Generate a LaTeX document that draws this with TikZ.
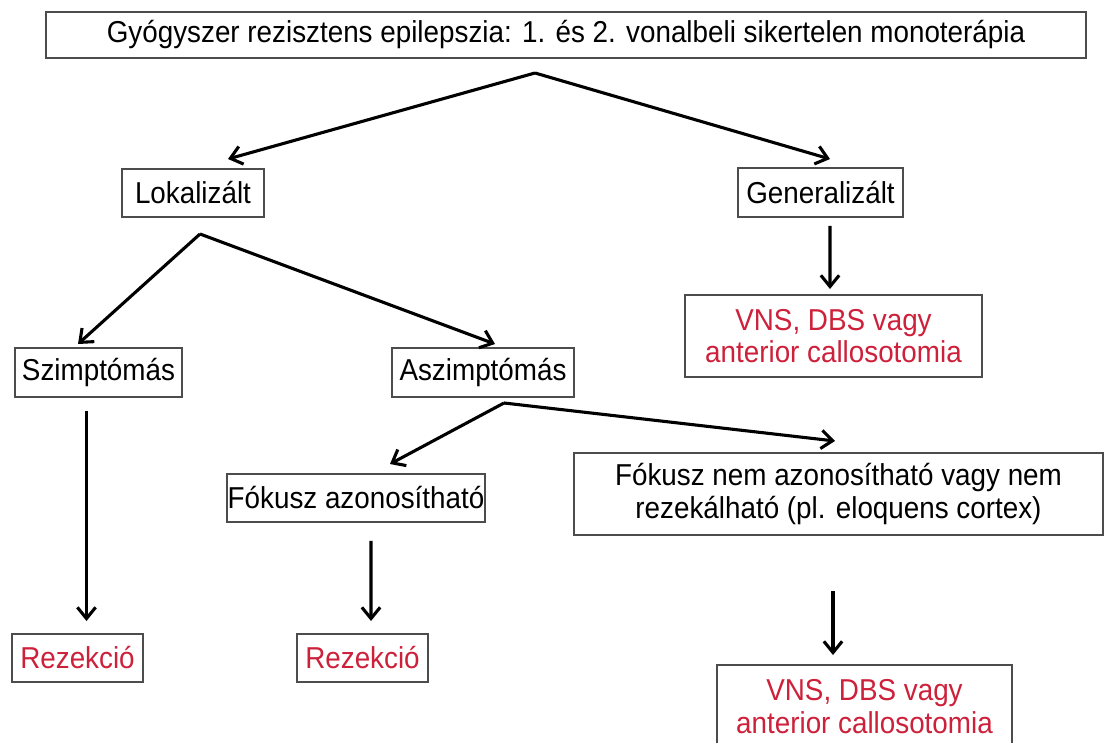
\documentclass[tikz,border=0pt]{standalone}
\usepackage{fontspec}
\setmainfont{Liberation Sans}[FakeStretch=0.92]
\usepackage{tikz}
\usetikzlibrary{positioning, arrows.meta, calc}

\definecolor{therapyred}{RGB}{205,32,58}

\begin{document}
\begin{tikzpicture}[
        x=0.025cm, y=-0.025cm,
        box/.style={
            rectangle,
            draw=black!70,
            line width=1.4pt,
            inner sep=0pt,
            align=center,
            font=\fontsize{21.5}{23.3}\selectfont
        },
        therapy/.style={
            box,
            text=therapyred
        },
        arrow/.style={
            -{Straight Barb[length=8pt,width=13pt]},
            line width=2.2pt
        }
    ]

    \useasboundingbox (0,0) rectangle (1112,743);

    % Boxes (top to bottom)
    \node[box, minimum width=26cm, minimum height=1.15cm] (top) at (566,35)
        {Gyógyszer rezisztens epilepszia: 1. és 2. vonalbeli sikertelen monoterápia};

    \node[box, minimum width=3.55cm, minimum height=1.2cm] (lok) at (193,193) {Lokalizált};
    \node[box, minimum width=4.125cm, minimum height=1.225cm] (gen) at (820.5,192.5) {Generalizált};

    \node[therapy, minimum width=7.425cm, minimum height=2.05cm] (vns1) at (833.5,336) {
        VNS, DBS vagy\\
        anterior callosotomia
    };

    \node[box, minimum width=4.175cm, minimum height=1.225cm] (szim) at (98.5,372.5) {Szimptómás};
    \node[box, minimum width=4.55cm, minimum height=1.225cm] (aszim) at (483,372.5) {Aszimptómás};

    \node[box, minimum width=6.45cm, minimum height=1.2cm] (fokaz) at (356,498) {Fókusz azonosítható};
    \node[box, minimum width=13.225cm, minimum height=2.05cm] (foknem) at (838.5,494) {
        Fókusz nem azonosítható vagy nem\\
        rezekálható (pl. eloquens cortex)
    };

    \node[therapy, minimum width=3.275cm, minimum height=1.2cm] (rez1) at (77.5,658) {Rezekció};
    \node[therapy, minimum width=3.275cm, minimum height=1.2cm] (rez2) at (362.5,658) {Rezekció};

    \node[therapy, minimum width=7.375cm, minimum height=2.075cm] (vns2) at (864.5,706.5) {
        VNS, DBS vagy\\
        anterior callosotomia
    };

    % Split points
    \coordinate (topsplit) at ($(top.south)+(-31,14)$);
    \coordinate (loksplit) at ($(lok.south)+(7,16)$);
    \coordinate (aszsplit) at ($(aszim.south)+(21,5)$);

    % Arrows
    \draw[arrow] (topsplit) -- ($(lok.north)+(35,-9)$);
    \draw[arrow] (topsplit) -- ($(gen.north)+(9.5,-8)$);
    \draw[arrow] ($(gen.south)+(9.5,8)$) -- ($(vns1.north)+(-3.5,-5)$);

    \draw[arrow] (loksplit) -- ($(szim.north)+(-20.5,-3)$);
    \draw[arrow] (loksplit) -- ($(aszim.north)+(12,-3)$);
    \draw[arrow] ($(szim.south)+(-12,13)$) -- ($(rez1.north)+(9,-12)$);

    \draw[arrow] (aszsplit) -- ($(fokaz.north)+(34,-9)$);
    \draw[arrow] (aszsplit) -- ($(foknem.north)+(-3.5,-11)$);
    \draw[arrow] ($(fokaz.south)+(15,18)$) -- ($(rez2.north)+(8.5,-12)$);
    \draw[arrow] ($(foknem.south)+(-5.5,55)$) -- ($(vns2.north)+(-31.5,-9)$);

\end{tikzpicture}
\end{document}
